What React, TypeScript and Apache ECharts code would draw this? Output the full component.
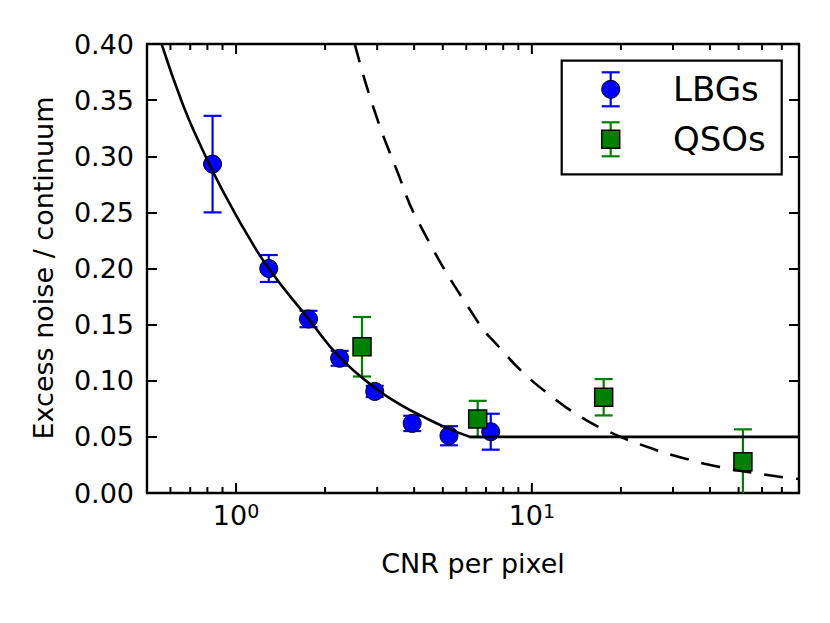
import React, { useEffect, useRef } from 'react';
import * as echarts from 'echarts';

// ---- data ----
const lbgX = [0.833, 1.29, 1.758, 2.24, 2.943, 3.94, 5.245, 7.26];
const lbgY = [0.293, 0.2, 0.155, 0.12, 0.0905, 0.062, 0.051, 0.0546];
const lbgErr = [0.043, 0.012, 0.0073, 0.0066, 0.005, 0.0068, 0.0085, 0.016];

const qsoX = [2.666, 6.56, 17.49, 51.7];
const qsoY = [0.1303, 0.0659, 0.0853, 0.0279];
const qsoErr = [0.0265, 0.0162, 0.0162, 0.0288];

const fitX = [0.56, 0.659, 0.751, 0.855, 0.974, 1.081, 1.29, 1.76, 2.24, 2.94, 3.58, 4.29, 5.15, 6.18];
const fitY = [0.4, 0.347, 0.312, 0.281, 0.253, 0.232, 0.2, 0.155, 0.121, 0.094, 0.079, 0.068, 0.058, 0.05];
const floorX = [6.18, 80];
const floorY = [0.05, 0.05];

const dashX = [2.52, 2.9, 3.49, 4.18, 6.51, 7.81, 9.37, 11.54, 14.21, 18.43, 25.2, 32.6, 42.4, 71.3, 80];
const dashY = [0.4, 0.345, 0.288, 0.239, 0.154, 0.129, 0.107, 0.087, 0.07, 0.054, 0.04, 0.031, 0.0236, 0.0138, 0.0125];

const majorTickValues = [1, 10];
const minorTickValues = [0.6, 0.7, 0.8, 0.9, 2, 3, 4, 5, 6, 7, 8, 9, 20, 30, 40, 50, 60, 70];

const X_MIN = 0.5;
const X_MAX = 80;
const Y_MIN = 0;
const Y_MAX = 0.4;
const Y_STEP = 0.05;

const seriesNames = ['LBGs', 'QSOs'];
const xTitle = 'CNR per pixel';
const yTitle = 'Excess noise / continuum';

const FONT = 'DejaVu Sans';
const BLUE = '#0000ff';
const GREEN = '#008000';

function errRender(color: string) {
  return (params: any, api: any) => {
    const x = api.value(0);
    const lo = api.value(1);
    const hi = api.value(2);
    const pLo = api.coord([x, lo]);
    const pHi = api.coord([x, hi]);
    const hw = 9;
    const style = { stroke: color, lineWidth: 2.2, fill: null };
    return {
      type: 'group',
      children: [
        { type: 'line', shape: { x1: pLo[0], y1: pLo[1], x2: pHi[0], y2: pHi[1] }, style },
        { type: 'line', shape: { x1: pLo[0] - hw, y1: pLo[1], x2: pLo[0] + hw, y2: pLo[1] }, style },
        { type: 'line', shape: { x1: pHi[0] - hw, y1: pHi[1], x2: pHi[0] + hw, y2: pHi[1] }, style },
      ],
    };
  };
}

function tickRender(len: number) {
  return (params: any, api: any) => {
    const p = api.coord([api.value(0), Y_MIN]);
    const cs = params.coordSys;
    const top = cs.y;
    const bottom = cs.y + cs.height;
    const style = { stroke: '#000', lineWidth: 2 };
    return {
      type: 'group',
      children: [
        { type: 'line', shape: { x1: p[0], y1: bottom, x2: p[0], y2: bottom - len }, style },
        { type: 'line', shape: { x1: p[0], y1: top, x2: p[0], y2: top + len }, style },
      ],
    };
  };
}

function logLabel(v: number) {
  const e = Math.log10(v);
  const r = Math.round(e);
  if (Math.abs(e - r) > 1e-6) return '';
  return `{b|10}{s|${r}}`;
}

export default function App() {
  const ref = useRef<HTMLDivElement>(null);

  useEffect(() => {
    if (!ref.current) return;
    const chart = echarts.init(ref.current, null, { renderer: 'svg' });

    const axisLine = { show: true, onZero: false, lineStyle: { color: '#000', width: 2.4 } };
    const axisTick = { show: true, inside: true, length: 10, lineStyle: { color: '#000', width: 2 } };

    const legendX = 610.7;
    const lbgLy = 89.3;
    const qsoLy = 139.3;
    const blueLine = { stroke: BLUE, lineWidth: 2.2 };
    const greenLine = { stroke: GREEN, lineWidth: 2.2 };

    const option: any = {
      animation: false,
      backgroundColor: '#fff',
      textStyle: { fontFamily: FONT },
      grid: { left: 147, top: 44, right: 31, bottom: 130, containLabel: false },
      xAxis: [
        {
          type: 'log',
          logBase: 10,
          min: X_MIN,
          max: X_MAX,
          position: 'bottom',
          axisLine,
          axisTick: { show: false },
          splitLine: { show: false },
          axisLabel: {
            margin: 8,
            formatter: logLabel,
            rich: {
              b: { fontSize: 27, fontFamily: FONT, color: '#000', lineHeight: 28 },
              s: { fontSize: 19, fontFamily: FONT, color: '#000', lineHeight: 10, verticalAlign: 'top' },
            },
          },
        },
        {
          type: 'log',
          logBase: 10,
          min: X_MIN,
          max: X_MAX,
          position: 'top',
          axisLine,
          axisTick: { show: false },
          splitLine: { show: false },
          axisLabel: { show: false },
        },
      ],
      yAxis: [
        {
          type: 'value',
          min: Y_MIN,
          max: Y_MAX,
          interval: Y_STEP,
          position: 'left',
          axisLine,
          axisTick,
          splitLine: { show: false },
          axisLabel: {
            margin: 13,
            fontSize: 27,
            fontFamily: FONT,
            color: '#000',
            formatter: (v: number) => v.toFixed(2),
          },
        },
        {
          type: 'value',
          min: Y_MIN,
          max: Y_MAX,
          interval: Y_STEP,
          position: 'right',
          axisLine,
          axisTick,
          splitLine: { show: false },
          axisLabel: { show: false },
        },
      ],
      series: [
        {
          type: 'custom',
          name: 'major ticks',
          silent: true,
          renderItem: tickRender(10),
          data: majorTickValues.map((v) => [v, Y_MIN]),
          encode: { x: 0, y: 1 },
          z: 5,
        },
        {
          type: 'custom',
          name: 'minor ticks',
          silent: true,
          renderItem: tickRender(6),
          data: minorTickValues.map((v) => [v, Y_MIN]),
          encode: { x: 0, y: 1 },
          z: 5,
        },
        {
          type: 'custom',
          name: seriesNames[0] + ' err',
          renderItem: errRender(BLUE),
          clip: true,
          data: lbgX.map((x, i) => [x, lbgY[i] - lbgErr[i], lbgY[i] + lbgErr[i]]),
          encode: { x: 0, y: [1, 2] },
          z: 2,
        },
        {
          type: 'scatter',
          name: seriesNames[0],
          symbol: 'circle',
          symbolSize: 18,
          itemStyle: { color: BLUE, borderColor: '#000', borderWidth: 1, opacity: 1 },
          data: lbgX.map((x, i) => [x, lbgY[i]]),
          z: 3,
        },
        {
          type: 'custom',
          name: seriesNames[1] + ' err',
          renderItem: errRender(GREEN),
          clip: true,
          data: qsoX.map((x, i) => [x, qsoY[i] - qsoErr[i], qsoY[i] + qsoErr[i]]),
          encode: { x: 0, y: [1, 2] },
          z: 3,
        },
        {
          type: 'scatter',
          name: seriesNames[1],
          symbol: 'rect',
          symbolSize: 18,
          itemStyle: { color: GREEN, borderColor: '#000', borderWidth: 1.5, opacity: 1 },
          data: qsoX.map((x, i) => [x, qsoY[i]]),
          z: 3,
        },
        {
          type: 'line',
          name: 'fit',
          data: fitX.map((x, i) => [x, fitY[i]]),
          smooth: 0.5,
          symbol: 'none',
          clip: true,
          lineStyle: { color: '#000', width: 2.6 },
          z: 4,
        },
        {
          type: 'line',
          name: 'floor',
          data: floorX.map((x, i) => [x, floorY[i]]),
          symbol: 'none',
          clip: true,
          lineStyle: { color: '#000', width: 2.6 },
          z: 4,
        },
        {
          type: 'line',
          name: 'dashed',
          data: dashX.map((x, i) => [x, dashY[i]]),
          smooth: 0.5,
          symbol: 'none',
          clip: true,
          lineStyle: { color: '#000', width: 2.6, type: [19, 13] },
          z: 4,
        },
      ],
      graphic: [
        {
          type: 'text',
          x: 473,
          y: 563,
          style: { text: xTitle, font: `27px "${FONT}"`, fill: '#000', textAlign: 'center', textVerticalAlign: 'middle' },
        },
        {
          type: 'text',
          x: 43,
          y: 268,
          rotation: Math.PI / 2,
          style: { text: yTitle, font: `27px "${FONT}"`, fill: '#000', textAlign: 'center', textVerticalAlign: 'middle' },
        },
        {
          type: 'rect',
          z: 100,
          shape: { x: 561.7, y: 60.7, width: 220, height: 113.6 },
          style: { fill: '#fff', stroke: '#000', lineWidth: 2.2 },
        },
        { type: 'line', z: 101, shape: { x1: legendX, y1: lbgLy - 17, x2: legendX, y2: lbgLy + 17 }, style: blueLine },
        { type: 'line', z: 101, shape: { x1: legendX - 9, y1: lbgLy - 17, x2: legendX + 9, y2: lbgLy - 17 }, style: blueLine },
        { type: 'line', z: 101, shape: { x1: legendX - 9, y1: lbgLy + 17, x2: legendX + 9, y2: lbgLy + 17 }, style: blueLine },
        { type: 'circle', z: 102, shape: { cx: legendX, cy: lbgLy, r: 9 }, style: { fill: BLUE, stroke: '#000', lineWidth: 1 } },
        { type: 'line', z: 101, shape: { x1: legendX, y1: qsoLy - 17, x2: legendX, y2: qsoLy + 17 }, style: greenLine },
        { type: 'line', z: 101, shape: { x1: legendX - 9, y1: qsoLy - 17, x2: legendX + 9, y2: qsoLy - 17 }, style: greenLine },
        { type: 'line', z: 101, shape: { x1: legendX - 9, y1: qsoLy + 17, x2: legendX + 9, y2: qsoLy + 17 }, style: greenLine },
        { type: 'rect', z: 102, shape: { x: legendX - 9, y: qsoLy - 9, width: 18, height: 18 }, style: { fill: GREEN, stroke: '#000', lineWidth: 1.5 } },
        {
          type: 'text',
          z: 102,
          x: 673,
          y: lbgLy,
          style: { text: seriesNames[0], font: `34px "${FONT}"`, fill: '#000', textAlign: 'left', textVerticalAlign: 'middle' },
        },
        {
          type: 'text',
          z: 102,
          x: 673,
          y: qsoLy,
          style: { text: seriesNames[1], font: `34px "${FONT}"`, fill: '#000', textAlign: 'left', textVerticalAlign: 'middle' },
        },
      ],
    };

    chart.setOption(option);
    return () => {
      chart.dispose();
    };
  }, []);

  return (
    <div
      ref={ref}
      style={{ position: 'fixed', left: 0, top: 0, width: 830, height: 623, background: '#fff' }}
    />
  );
}
